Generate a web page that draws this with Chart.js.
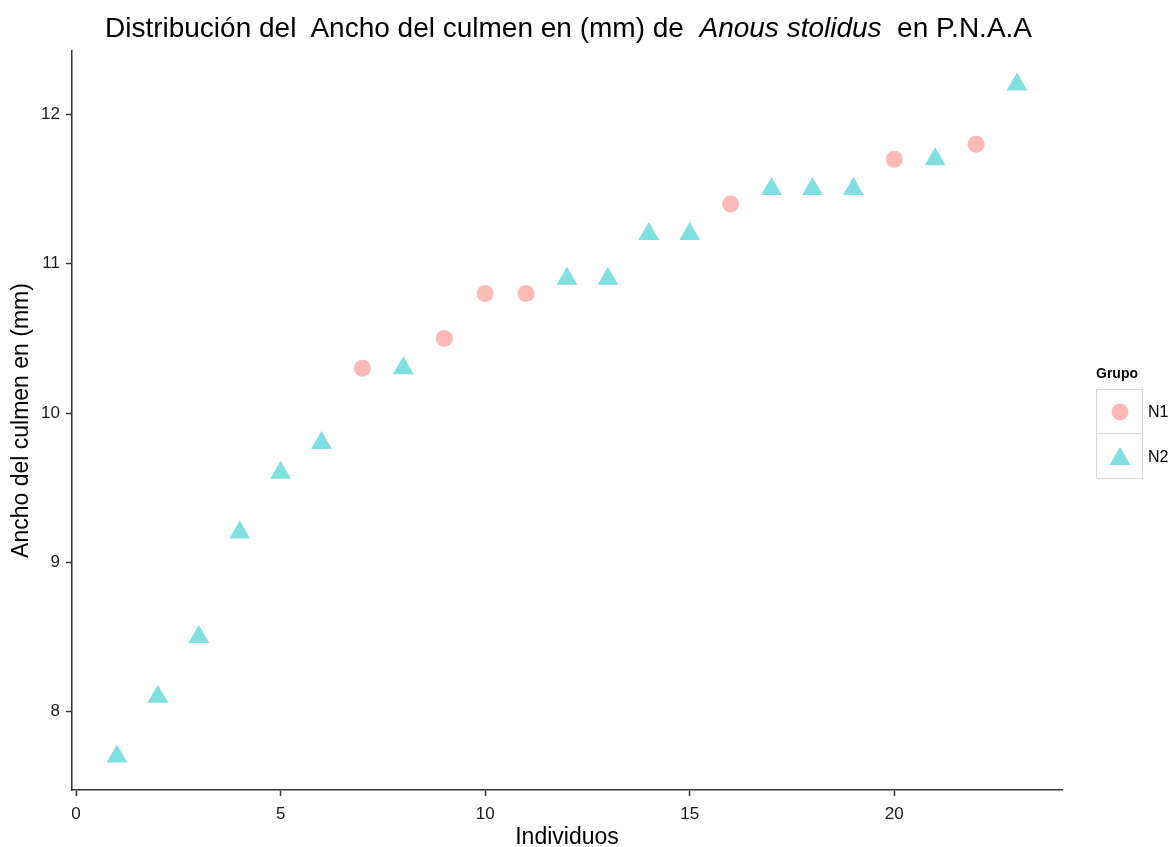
<!DOCTYPE html>
<html>
<head>
<meta charset="utf-8">
<script src="https://cdn.jsdelivr.net/npm/chart.js@4"></script>
<style>
  body { margin: 0; background: #fff; font-family: "Liberation Sans", Arial, sans-serif; }
  #wrap { position: relative; width: 1174px; height: 847px; }
  #titulo { position: absolute; left: 0; width: 1137px; top: 12px; text-align: center;
            font-size: 28px; line-height: 32px; color: #000; white-space: pre; }
  #leyenda { position: absolute; left: 1096px; top: 365px; color: #000; }
  #leyenda .tit { font-weight: bold; font-size: 14px; height: 24px; }
  #leyenda .fila { display: flex; align-items: center; height: 45px; }
  #leyenda .caja { width: 47px; height: 45px; border: 1.5px solid #d6d6d6; display: flex;
                   align-items: center; justify-content: center; box-sizing: border-box; }
  #leyenda .fila + .fila .caja { border-top: none; }
  #leyenda .lab { font-size: 16px; margin-left: 5px; }
</style>
</head>
<body>
<div id="wrap">
  <canvas id="grafico" width="1174" height="847"></canvas>
  <div id="titulo">Distribución del  Ancho del culmen en (mm) de  <i>Anous stolidus</i>  en P.N.A.A</div>
  <div id="leyenda">
    <div class="tit">Grupo</div>
    <div class="fila"><div class="caja"><svg width="20" height="20"><circle cx="10" cy="10" r="8.5" fill="rgba(248,118,109,0.5)"/></svg></div><span class="lab">N1</span></div>
    <div class="fila"><div class="caja"><svg width="24" height="22"><polygon points="12,2 22.4,20 1.6,20" fill="rgba(0,191,196,0.5)"/></svg></div><span class="lab">N2</span></div>
  </div>
</div>
<script>
// individuos y ancho del culmen por grupo
const individuosN1 = [7, 9, 10, 11, 16, 20, 22];
const anchoN1 = [10.3, 10.5, 10.8, 10.8, 11.4, 11.7, 11.8];
const individuosN2 = [1, 2, 3, 4, 5, 6, 8, 12, 13, 14, 15, 17, 18, 19, 21, 23];
const anchoN2 = [7.7, 8.1, 8.5, 9.2, 9.6, 9.8, 10.3, 10.9, 10.9, 11.2, 11.2, 11.5, 11.5, 11.5, 11.7, 12.2];

const ticksX = [0, 5, 10, 15, 20];
const ticksY = [8, 9, 10, 11, 12];

const colorN1 = "rgba(248,118,109,0.5)";
const colorN2 = "rgba(0,191,196,0.5)";

const familia = "'Liberation Sans', Arial, sans-serif";

function eje(padding) {
    return {
        type: "linear",
        grid: { drawOnChartArea: false, drawTicks: true, tickLength: 6, tickColor: "#333", tickWidth: 1.5 },
        border: { display: true, color: "#333", width: 1.5 },
        ticks: { color: "#1a1a1a", font: { family: familia, size: 17 }, padding: padding }
    };
}

new Chart(document.getElementById("grafico"), {
    type: "scatter",
    data: {
        datasets: [
            {
                label: "N1",
                data: individuosN1.map((x, i) => ({ x: x, y: anchoN1[i] })),
                pointStyle: "circle",
                pointRadius: 8.5,
                backgroundColor: colorN1,
                borderWidth: 0
            },
            {
                label: "N2",
                data: individuosN2.map((x, i) => ({ x: x, y: anchoN2[i] })),
                pointStyle: "triangle",
                pointRadius: 12,
                backgroundColor: colorN2,
                borderWidth: 0
            }
        ]
    },
    options: {
        responsive: false,
        animation: false,
        layout: { padding: { top: 51, right: 112, bottom: 0, left: 8 } },
        plugins: { legend: { display: false }, tooltip: { enabled: false } },
        scales: {
            x: Object.assign(eje(8), {
                min: -0.1, max: 24.1,
                afterBuildTicks: s => { s.ticks = ticksX.map(v => ({ value: v })); },
                afterFit: s => { s.height = 57; },
                title: { display: true, text: "Individuos", color: "#000",
                         font: { family: familia, size: 23, lineHeight: 1 }, padding: { top: 0, bottom: -2 } }
            }),
            y: Object.assign(eje(6), {
                min: 7.475, max: 12.425,
                afterBuildTicks: s => { s.ticks = ticksY.map(v => ({ value: v })); },
                afterFit: s => { s.width = 64; },
                title: { display: true, text: "Ancho del culmen en (mm)", color: "#000",
                         font: { family: familia, size: 23, lineHeight: 1 }, padding: { top: 2, bottom: 0 } }
            })
        }
    }
});
</script>
</body>
</html>
